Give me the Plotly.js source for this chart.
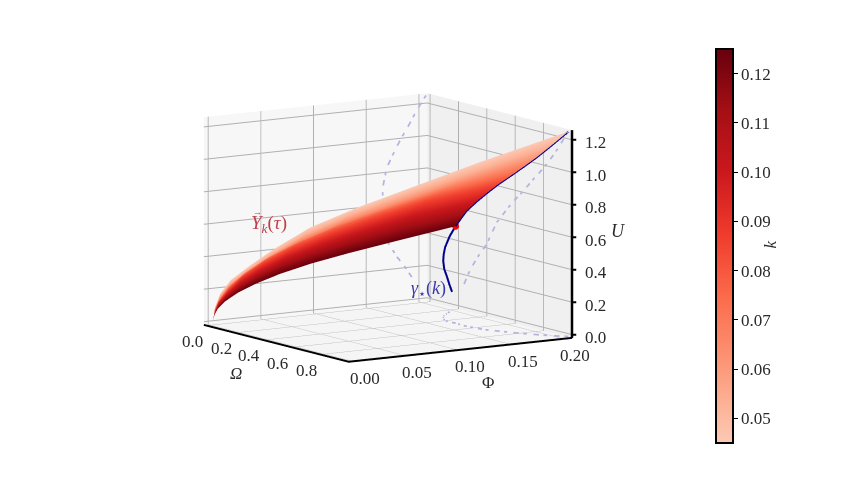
<!DOCTYPE html>
<html>
<head>
<meta charset="utf-8">
<script src="https://cdn.plot.ly/plotly-3.0.1.min.js"></script>
<style>html,body{margin:0;padding:0;background:#fff}#chart{width:843px;height:492px}</style>
</head>
<body>
<div id="chart"></div>
<script>
// one row per k, one column per step along tau
const kRows=[.045,.053,.061,.069,.077,.085,.093,.101,.109,.117,.125];
const omegaRows=[
 [0,.005,.02,.05,.099,.168,.267,.396,.545,.743,.99],
 [0,.005,.019,.047,.094,.16,.254,.376,.517,.705,.94],
 [0,.004,.018,.045,.089,.151,.24,.356,.49,.668,.89],
 [0,.004,.017,.042,.084,.143,.227,.336,.462,.63,.84],
 [0,.004,.016,.04,.079,.134,.213,.316,.435,.593,.79],
 [0,.004,.015,.037,.074,.126,.2,.296,.407,.555,.74],
 [0,.003,.014,.035,.069,.117,.186,.276,.38,.518,.69],
 [0,.003,.013,.032,.063,.107,.17,.252,.347,.473,.63],
 [0,.003,.012,.029,.058,.099,.157,.232,.319,.435,.58],
 [0,.003,.011,.027,.053,.09,.144,.214,.294,.401,.535],
 [0,.002,.01,.025,.05,.084,.134,.198,.272,.371,.495]];
const phiRows=[
 [.002,.003,.006,.012,.023,.037,.058,.084,.115,.154,.2057],
 [.002,.003,.006,.012,.022,.036,.056,.081,.11,.147,.1964],
 [.002,.003,.006,.012,.021,.035,.054,.079,.107,.142,.1898],
 [.002,.003,.006,.011,.021,.034,.053,.077,.104,.137,.1833],
 [.002,.003,.006,.011,.02,.033,.051,.074,.101,.133,.1777],
 [.002,.003,.005,.011,.02,.032,.05,.073,.099,.13,.1731],
 [.002,.003,.005,.011,.019,.031,.049,.071,.096,.126,.1684],
 [.002,.003,.005,.01,.019,.031,.048,.07,.095,.125,.1661],
 [.002,.003,.005,.01,.019,.03,.047,.069,.093,.123,.1644],
 [.002,.003,.005,.01,.019,.03,.047,.069,.093,.124,.1648],
 [.002,.003,.005,.01,.019,.031,.048,.069,.094,.124,.1654]];
const uRows=[
 [.008,.087,.173,.26,.35,.46,.6,.73,.865,1.04,1.25],
 [.008,.08,.16,.24,.325,.43,.56,.685,.81,.965,1.159],
 [.008,.075,.15,.228,.31,.41,.53,.65,.765,.91,1.083],
 [.008,.071,.141,.218,.305,.4,.505,.62,.73,.865,1.014],
 [.008,.066,.133,.208,.295,.388,.492,.597,.701,.824,.951],
 [.008,.063,.125,.197,.283,.367,.465,.563,.662,.778,.893],
 [.008,.058,.116,.183,.262,.34,.432,.523,.614,.722,.828],
 [.008,.053,.107,.168,.241,.312,.396,.48,.564,.663,.76],
 [.008,.049,.098,.154,.222,.288,.365,.442,.519,.611,.699],
 [.008,.044,.089,.14,.201,.26,.33,.4,.47,.552,.639],
 [.008,.04,.079,.125,.179,.232,.294,.357,.419,.492,.585]];

const gammaOmega=[.99,.94,.89,.84,.79,.74,.69,.63,.58,.535,.495,.46,.425,.39,.355,.32,.29,.265,.245];
const gammaPhi=[.2057,.1964,.1898,.1833,.1777,.1731,.1684,.1661,.1644,.1648,.1654,.1645,.1649,.1683,.1726,.1783,.1848,.1906,.1958];
const gammaU=[1.25,1.159,1.083,1.014,.951,.893,.828,.76,.699,.639,.585,.515,.439,.384,.335,.273,.217,.157,.104];
const dotOmega=[.495],dotPhi=[.1654],dotU=[.585];
// the shadows of the curve sit just inside the panes
const wallOmega=-.012,wallPhi=.205,floorU=-.012;

const omegaRange=[-.02,1],phiRange=[-.004,.208],uRange=[-.02,1.26];
const omegaTicks=[0,.2,.4,.6,.8],omegaLabels=['0.0','0.2','0.4','0.6','0.8'];
const phiTicks=[0,.05,.1,.15,.2],phiLabels=['0.00','0.05','0.10','0.15','0.20'];
const uTicks=[0,.2,.4,.6,.8,1,1.2],uLabels=['0.0','0.2','0.4','0.6','0.8','1.0','1.2'];
const kTicks=[.05,.06,.07,.08,.09,.1,.11,.12],kLabels=['0.05','0.06','0.07','0.08','0.09','0.10','0.11','0.12'];

const serif='"Liberation Serif",serif';
const ink='#2a2a2a';
const redsCut=[[0,'#fcc9b5'],[.0625,'#fcbba1'],[.219,'#fc9272'],[.375,'#fb6a4a'],[.531,'#ef3b2c'],[.6875,'#cb181d'],[.844,'#a50f15'],[1,'#67000d']];
const dashed={color:'#b4b4de',width:3.5,dash:'longdashdot'};

const axis=(range,vals,text,bg)=>({
  title:{text:''},
  range,autorange:false,tickmode:'array',tickvals:vals,ticktext:text,showticklabels:false,
  showbackground:true,backgroundcolor:bg,
  gridcolor:'#b0b0b0',gridwidth:2,zeroline:false,showspikes:false,
  showline:true,linecolor:'#000',linewidth:4,ticks:'outside',ticklen:3,tickcolor:'#000',tickwidth:2
});

// gl labels can't be nudged and plotly keeps its z labels on the left edge, so the scales are scene annotations
const note=(x,y,z,text,xshift,yshift,size)=>({x,y,z,text,xshift,yshift,showarrow:false,font:{family:serif,size:size||17,color:ink}});
const omegaLabelNotes=omegaTicks.map((o,i)=>note(o,phiRange[0],0,omegaLabels[i],-14,-19));
const phiLabelNotes=phiTicks.map((p,i)=>note(omegaRange[1],p,0,phiLabels[i],12,-20));
const uLabelNotes=uTicks.map((u,i)=>note(omegaRange[1],phiRange[1],u,uLabels[i],24,-3));
const uTickNotes=uTicks.map(u=>({x:omegaRange[1],y:phiRange[1],z:u,text:'\u00a0',showarrow:true,arrowhead:0,arrowwidth:2,arrowcolor:'#000',
  ax:6,ay:0,font:{size:1}}));

const traces=[
  {type:'surface',x:omegaRows,y:phiRows,z:uRows,
   surfacecolor:kRows.map((k,i)=>omegaRows[i].map(()=>k)),
   colorscale:redsCut,cmin:.045,cmax:.125,hoverinfo:'skip',
   lighting:{ambient:1,diffuse:0,specular:0,roughness:1,fresnel:0},
   contours:{x:{show:false},y:{show:false},z:{show:false}},
   colorbar:{thickness:17,len:394,lenmode:'pixels',x:716/843,xanchor:'left',xpad:0,
     y:.5,yanchor:'middle',ypad:0,outlinecolor:'#000',outlinewidth:2,
     tickmode:'array',tickvals:kTicks,ticktext:kLabels,ticks:'outside',ticklen:4,tickcolor:'#000',
     tickfont:{family:serif,size:17,color:ink}}},
  {type:'scatter3d',mode:'lines',x:gammaOmega,y:gammaPhi,z:gammaU,line:{color:'#00008b',width:4},hoverinfo:'skip'},
  {type:'scatter3d',mode:'lines',x:gammaOmega.map(()=>wallOmega),y:gammaPhi,z:gammaU,line:dashed,hoverinfo:'skip'},
  {type:'scatter3d',mode:'lines',x:gammaOmega,y:gammaPhi.map(()=>wallPhi),z:gammaU,line:dashed,hoverinfo:'skip'},
  {type:'scatter3d',mode:'lines',x:gammaOmega,y:gammaPhi,z:gammaU.map(()=>floorU),line:dashed,hoverinfo:'skip'},
  {type:'scatter3d',mode:'lines',x:[omegaRange[1],omegaRange[1]],y:[phiRange[1],phiRange[1]],z:uRange,line:{color:'#000',width:5},hoverinfo:'skip'},
  {type:'scatter3d',mode:'markers',x:dotOmega,y:dotPhi,z:dotU,marker:{color:'#ff0000',size:4},hoverinfo:'skip'}
];

const zAxis=axis(uRange,uTicks,uLabels,'#f5f5f5');
Object.assign(zAxis,{showline:false,ticks:''});

Plotly.newPlot('chart',traces,{
  width:843,height:492,paper_bgcolor:'#fff',showlegend:false,
  margin:{l:0,r:0,t:0,b:0},
  annotations:[{xref:'paper',yref:'paper',x:781/843,y:1-245/492,text:'<i>k</i>',textangle:-90,showarrow:false,font:{family:serif,size:17,color:ink}}],
  scene:{
    domain:{x:[0,.92],y:[.075,1]},
    aspectmode:'manual',aspectratio:{x:1.17,y:1.17,z:.926},
    camera:{projection:{type:'orthographic'},eye:{x:1.555,y:-1.008,z:.31},center:{x:0,y:0,z:0},up:{x:0,y:0,z:1}},
    xaxis:axis(omegaRange,omegaTicks,omegaLabels,'#f7f7f7'),
    yaxis:axis(phiRange,phiTicks,phiLabels,'#f0f0f0'),
    zaxis:zAxis,
    annotations:[
      {x:0,y:.06,z:.6,xshift:-5,yshift:-6,text:'<i>Y</i><sub><i>k</i></sub>(<i>τ</i>)',showarrow:false,font:{family:serif,size:19,color:'#c0404a'}},
      {x:0,y:.06,z:.6,xshift:-17,yshift:6,text:'→',showarrow:false,font:{family:serif,size:9,color:'#c0404a'}},
      {x:.13,y:.195,z:.13,xshift:-6,yshift:-6,text:'<i>γ</i><sub>⋆</sub>(<i>k</i>)',showarrow:false,font:{family:serif,size:18,color:'#3a3aa8'}},
      note(omegaRange[1],phiRange[1],.6,'<i>U</i>',46,6,18),
      note(.5,phiRange[0],0,'<i>Ω</i>',-42,-33),
      note(omegaRange[1],.1,0,'Φ',30,-36),
      ...omegaLabelNotes,...phiLabelNotes,...uLabelNotes,...uTickNotes
    ]
  }
},{displayModeBar:false});
</script>
</body>
</html>
